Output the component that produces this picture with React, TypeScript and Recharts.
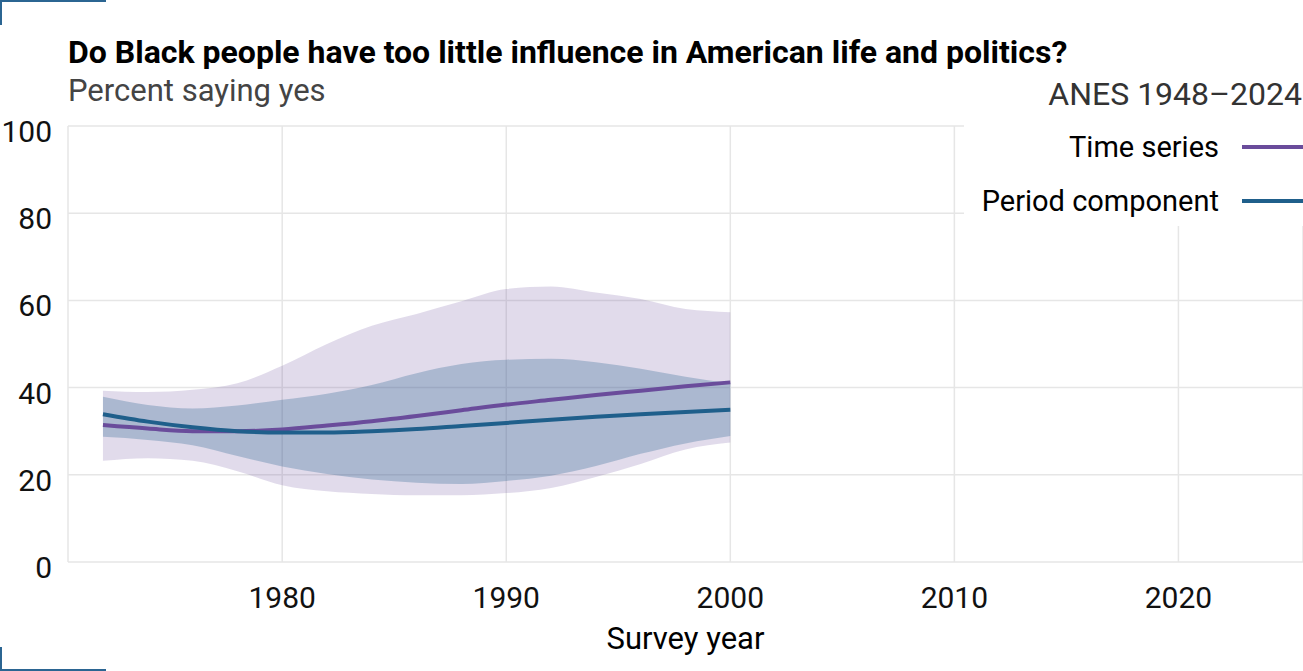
import React from "react";
import { ComposedChart, Area, Line, XAxis, YAxis, CartesianGrid } from "recharts";

const YEARS = [1972, 1974, 1976, 1978, 1980, 1982, 1984, 1986, 1988, 1990, 1992, 1994, 1996, 1998, 2000];
const TIME_SERIES = [31.4, 30.6, 30.0, 30.0, 30.4, 31.3, 32.3, 33.5, 34.8, 36.1, 37.2, 38.3, 39.3, 40.3, 41.2];
const PERIOD = [33.9, 32.2, 30.9, 30.0, 29.7, 29.7, 30.0, 30.5, 31.2, 31.9, 32.6, 33.3, 33.9, 34.4, 34.9];
const TS_LOW = [23.2, 23.8, 23.2, 20.8, 17.6, 16.2, 15.6, 15.3, 15.3, 15.8, 17.0, 19.5, 22.5, 25.8, 27.4];
const TS_HIGH = [39.3, 39.0, 39.5, 41.0, 45.0, 50.0, 54.2, 56.9, 59.8, 62.6, 63.2, 61.8, 60.3, 58.0, 57.3];
const PER_LOW = [28.7, 28.0, 26.8, 24.3, 21.9, 20.2, 18.9, 18.2, 17.9, 18.6, 19.8, 22.0, 24.8, 27.2, 28.9];
const PER_HIGH = [37.9, 36.0, 35.2, 35.9, 37.2, 38.6, 40.6, 43.3, 45.4, 46.4, 46.6, 45.8, 44.3, 42.5, 41.0];

const X_TICKS = [1980, 1990, 2000, 2010, 2020];
const Y_TICKS = [0, 20, 40, 60, 80, 100];

const PURPLE = "#6a4c9b";
const BLUE = "#1f5f8b";
const FONT = "Roboto, sans-serif";

const data = YEARS.map((year, i) => ({
  year,
  ts: TIME_SERIES[i],
  period: PERIOD[i],
  tsBand: [TS_LOW[i], TS_HIGH[i]],
  perBand: [PER_LOW[i], PER_HIGH[i]],
}));

const YTick = ({ x, y, payload }: any) => (
  <text x={x} y={y + 16} textAnchor="end" fontSize={30} fontFamily={FONT} fill="#111">
    {payload.value}
  </text>
);

const XTick = ({ x, payload }: any) => (
  <text x={x} y={608} textAnchor="middle" fontSize={30} fontFamily={FONT} fill="#111">
    {payload.value}
  </text>
);

export default function App() {
  return (
    <div style={{ position: "absolute", left: 0, top: 0, width: 1303, height: 671, background: "#fff", fontFamily: FONT, overflow: "hidden" }}>
      {/* corner marks */}
      <div style={{ position: "absolute", left: 0, top: 0, width: 106, height: 2, background: "#2b6592" }} />
      <div style={{ position: "absolute", left: 0, top: 0, width: 2, height: 25, background: "#2b6592" }} />
      <div style={{ position: "absolute", left: 0, top: 669, width: 106, height: 2, background: "#2b6592" }} />
      <div style={{ position: "absolute", left: 0, top: 647, width: 2, height: 24, background: "#2b6592" }} />

      <ComposedChart width={1303} height={671} data={data} margin={{ top: 126, right: 0, bottom: 49, left: 0 }}>
        <CartesianGrid stroke="#e6e6e6" strokeWidth={1.5} />
        <XAxis
          dataKey="year"
          type="number"
          domain={[1970.44, 2025.56]}
          ticks={X_TICKS}
          height={60}
          axisLine={false}
          tickLine={false}
          tickSize={0}
          tick={<XTick />}
          interval={0}
        />
        <YAxis
          type="number"
          domain={[0, 100]}
          ticks={Y_TICKS}
          width={68}
          axisLine={false}
          tickLine={false}
          tickSize={0}
          tickMargin={16}
          tick={<YTick />}
          interval={0}
        />
        <Area dataKey="tsBand" type="monotone" fill={PURPLE} fillOpacity={0.2} stroke="none" isAnimationActive={false} />
        <Area dataKey="perBand" type="monotone" fill={BLUE} fillOpacity={0.28} stroke="none" isAnimationActive={false} />
        <Line dataKey="ts" type="monotone" stroke={PURPLE} strokeWidth={4} dot={false} isAnimationActive={false} />
        <Line dataKey="period" type="monotone" stroke={BLUE} strokeWidth={4} dot={false} isAnimationActive={false} />
      </ComposedChart>

      <div style={{ position: "absolute", left: 68, top: 33, fontSize: 32, fontWeight: 700, color: "#000", whiteSpace: "nowrap", lineHeight: "38px" }}>
        Do Black people have too little influence in American life and politics?
      </div>
      <div style={{ position: "absolute", left: 68, top: 73, fontSize: 31, color: "#444", whiteSpace: "nowrap", lineHeight: "36px" }}>
        Percent saying yes
      </div>
      <div style={{ position: "absolute", right: 1, top: 75, fontSize: 32, color: "#333", whiteSpace: "nowrap", lineHeight: "38px" }}>
        ANES 1948–2024
      </div>

      {/* legend */}
      <div style={{ position: "absolute", left: 964, top: 122, width: 339, height: 104, background: "#fff" }}>
        <div style={{ position: "absolute", right: 84, top: 8, fontSize: 29, color: "#000", whiteSpace: "nowrap", lineHeight: "34px" }}>Time series</div>
        <div style={{ position: "absolute", left: 278, top: 23, width: 61, height: 4, background: PURPLE }} />
        <div style={{ position: "absolute", right: 84, top: 62, fontSize: 29, color: "#000", whiteSpace: "nowrap", lineHeight: "34px" }}>Period component</div>
        <div style={{ position: "absolute", left: 278, top: 77, width: 61, height: 4, background: BLUE }} />
      </div>

      <div style={{ position: "absolute", left: 0, width: 1303, paddingLeft: 68, boxSizing: "border-box", top: 621, textAlign: "center", fontSize: 31, color: "#000", lineHeight: "36px" }}>
        Survey year
      </div>
    </div>
  );
}
